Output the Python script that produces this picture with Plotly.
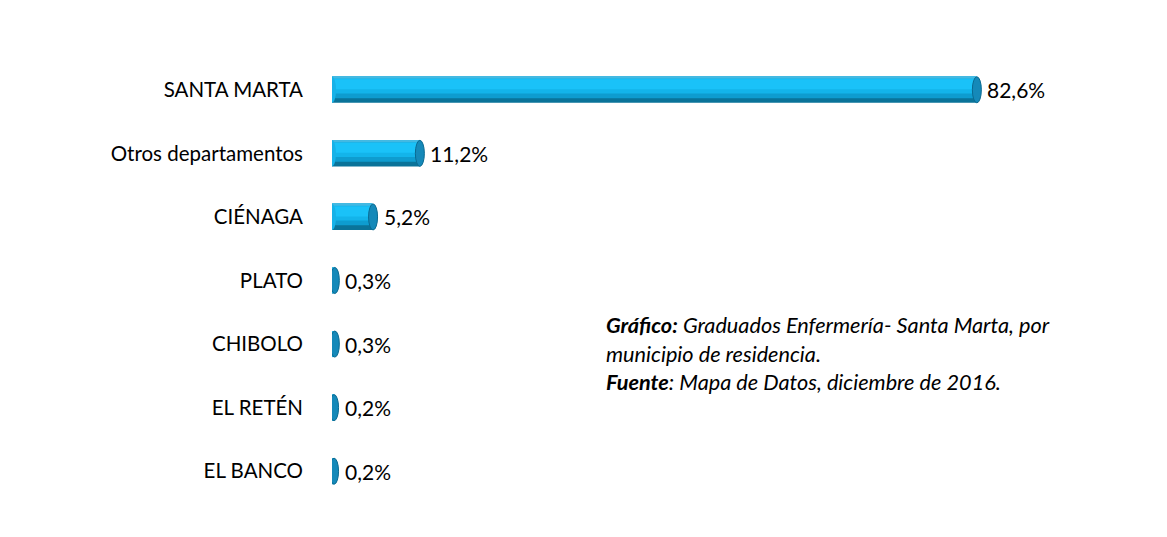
import plotly.graph_objects as go

categories = ["SANTA MARTA", "Otros departamentos", "CIÉNAGA", "PLATO", "CHIBOLO", "EL RETÉN", "EL BANCO"]
values = [82.6, 11.2, 5.2, 0.3, 0.3, 0.2, 0.2]
labels = ["82,6%", "11,2%", "5,2%", "0,3%", "0,3%", "0,2%", "0,2%"]
caption_lines = [
    "<b><i>Gráfico:</i></b><i> Graduados Enfermería- Santa Marta, por</i>",
    "<i>municipio de residencia.</i>",
    "<b><i>Fuente</i></b><i>: Mapa de Datos, diciembre de 2016.</i>",
]

FONT = "Lato"
pos = list(range(len(categories)))
T = 0.41          # bar thickness in category units
TOP = -T / 2      # offset of upper edge

fig = go.Figure()
# layered bars to suggest a cylinder (fractions measured from the upper edge)
layers = [
    (0.00, 1.00, "#0A7399"),
    (0.00, 0.82, "#0E9CCF"),
    (0.00, 0.64, "#13B4EA"),
    (0.10, 0.48, "#1AC2F8"),
    (0.00, 0.07, "#43B9E2"),
]
for start, end, col in layers:
    fig.add_trace(go.Bar(
        x=values, y=pos, orientation="h", width=T * (end - start), offset=TOP + T * start,
        marker=dict(color=col, line=dict(width=0)), hoverinfo="skip", showlegend=False,
    ))

shapes = []
annotations = []
for p, v, lab in zip(pos, values, labels):
    # left rounded end
    shapes.append(dict(type="circle", xref="x", yref="y", xsizemode="pixel", xanchor=0,
                       x0=-4, x1=4, y0=p - T / 2, y1=p + T / 2,
                       fillcolor="#16B2E8", line=dict(width=0), layer="above"))
    # right end cap
    shapes.append(dict(type="circle", xref="x", yref="y", xsizemode="pixel", xanchor=v,
                       x0=-4, x1=5, y0=p - T / 2, y1=p + T / 2,
                       fillcolor="#1589B9", line=dict(color="#0A6A91", width=1), layer="above"))
    annotations.append(dict(x=v, y=p, xref="x", yref="y", text=lab, showarrow=False,
                            xanchor="left", yanchor="middle", xshift=9,
                            font=dict(family=FONT, size=21, color="#000000")))

cap_y = [0.4004, 0.335, 0.272]
for t, yy in zip(caption_lines, cap_y):
    annotations.append(dict(x=0.331, y=yy, xref="paper", yref="paper", text=t, showarrow=False,
                            xanchor="left", yanchor="middle",
                            font=dict(family=FONT, size=21.7, color="#000000")))

fig.update_layout(
    width=1167, height=537,
    margin=dict(l=324, r=20, t=50, b=42),
    paper_bgcolor="white", plot_bgcolor="white",
    barmode="overlay",
    shapes=shapes, annotations=annotations,
    xaxis=dict(range=[0, 105.5], visible=False, showgrid=False, zeroline=False),
    yaxis=dict(range=[6.5, -0.5], tickmode="array", tickvals=pos, ticktext=categories,
               showgrid=False, zeroline=False, showline=False, ticks="",
               ticklabelstandoff=28,
               tickfont=dict(family=FONT, size=20.5, color="#000000")),
)

fig.write_html("out.html")
